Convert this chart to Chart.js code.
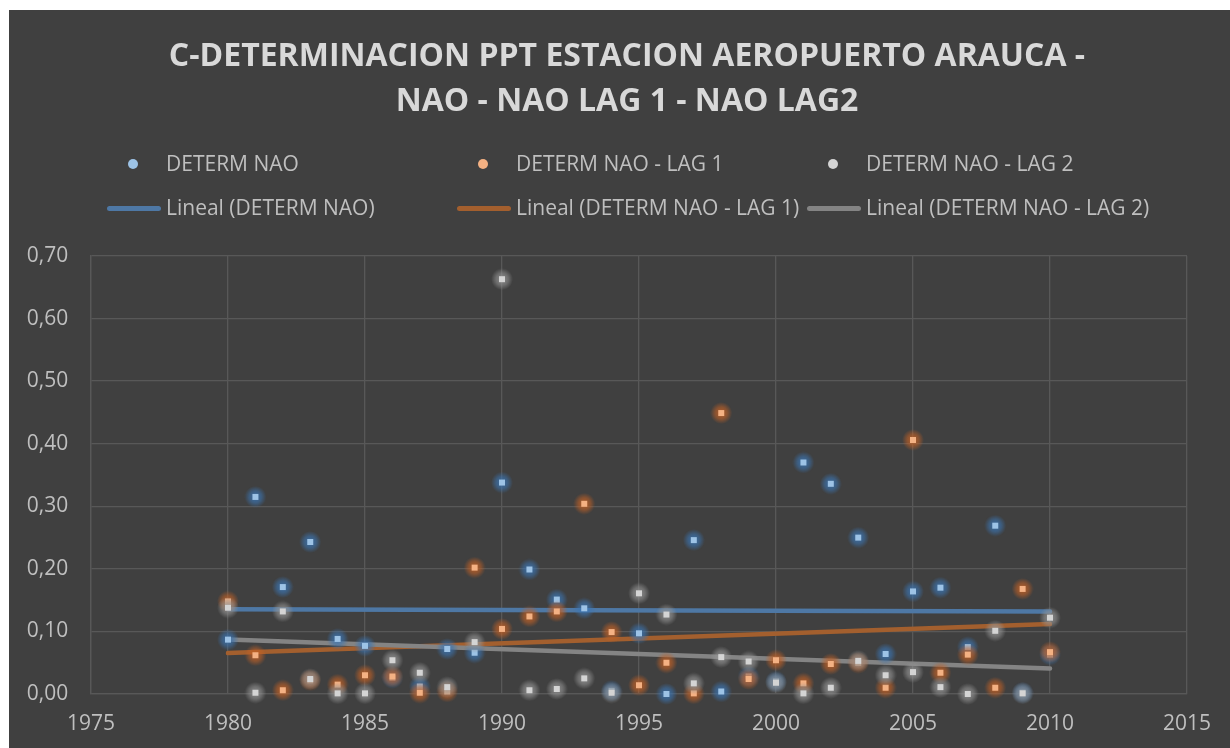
<!DOCTYPE html>
<html>
<head>
<meta charset="utf-8">
<script src="https://cdn.jsdelivr.net/npm/chart.js@4"></script>
<style>
html,body{margin:0;padding:0;background:#fff;}
#box{position:absolute;left:9px;top:10px;width:1221px;height:738px;background:#404040;overflow:hidden;}
#box canvas{position:absolute;left:0;top:0;}
.ttl{position:absolute;left:0;width:1236px;text-align:center;font-family:"Open Sans";font-weight:bold;font-size:32px;line-height:45px;color:#d9d9d9;white-space:nowrap;}
.leg{position:absolute;font-family:"Open Sans";font-size:21px;line-height:30px;color:#bfbfbf;white-space:nowrap;}
.dot{position:absolute;width:10px;height:10px;border-radius:50%;}
.ln{position:absolute;width:54px;height:5px;border-radius:3px;}
</style>
</head>
<body>
<div id="box">
<canvas id="chart" width="1221" height="738"></canvas>
<div id="title"></div>
<div id="legend"></div>
</div>
<script>
const years=[1980,1981,1982,1983,1984,1985,1986,1987,1988,1989,1990,1991,1992,1993,1994,1995,1996,1997,1998,1999,2000,2001,2002,2003,2004,2005,2006,2007,2008,2009,2010]

const determNao=[0.087,0.315,0.171,0.243,0.088,0.077,0.026,0.012,0.072,0.066,0.338,0.199,0.151,0.137,0.005,0.097,0.000,0.246,0.004,0.028,0.020,0.370,0.336,0.250,0.064,0.164,0.170,0.075,0.269,0.002,0.063]

const determLag1=[0.148,0.062,0.006,0.022,0.015,0.030,0.028,0.002,0.004,0.202,0.104,0.124,0.132,0.304,0.099,0.014,0.050,0.001,0.449,0.024,0.054,0.017,0.048,0.050,0.010,0.406,0.034,0.063,0.010,0.168,0.067]

const determLag2=[0.138,0.002,0.132,0.024,0.001,0.001,0.054,0.034,0.011,0.083,0.663,0.006,0.008,0.025,0.002,0.161,0.127,0.017,0.059,0.052,0.018,0.001,0.010,0.053,0.030,0.035,0.011,0.000,0.101,0.001,0.122]

const seriesNames=["DETERM NAO","DETERM NAO - LAG 1","DETERM NAO - LAG 2"]
const trendNames=["Lineal (DETERM NAO)","Lineal (DETERM NAO - LAG 1)","Lineal (DETERM NAO - LAG 2)"]

const titleLines=["C-DETERMINACION PPT ESTACION AEROPUERTO ARAUCA -","NAO - NAO LAG 1 - NAO LAG2"]

const pointColors=["#9dc3e6","#f4b183","#d4d4d4"]
const glowRgb=["60,118,180","196,98,38","150,150,150"]
const lineColors=["#4e78a5","#a35f2e","#848484"]

function toPoints(ys){
return years.map((y,i)=>({x:y,y:ys[i]}))
}

// least squares line, like excel's "Lineal" trendline
function trend(ys){
let n=years.length,sx=0,sy=0,sxx=0,sxy=0
years.forEach((x,i)=>{
let t=x-years[0]
sx+=t;sy+=ys[i];sxx+=t*t;sxy+=t*ys[i]
})
let b=(n*sxy-sx*sy)/(n*sxx-sx*sx)
let a=(sy-b*sx)/n
let last=years[n-1]-years[0]
return [{x:years[0],y:a},{x:years[n-1],y:a+b*last}]
}

// square marker with a soft glow round it
function marker(fill,rgb){
let c=document.createElement("canvas")
c.width=22
c.height=22
let g=c.getContext("2d")
let grd=g.createRadialGradient(11,11,1,11,11,11)
grd.addColorStop(0,"rgba("+rgb+",0.85)")
grd.addColorStop(0.5,"rgba("+rgb+",0.55)")
grd.addColorStop(1,"rgba("+rgb+",0)")
g.fillStyle=grd
g.beginPath()
g.arc(11,11,11,0,Math.PI*2)
g.fill()
g.fillStyle=fill
g.fillRect(8,8,6,6)
return c
}

const allSeries=[determNao,determLag1,determLag2]

let datasets=[]

allSeries.forEach((s,i)=>{
datasets.push({
label:seriesNames[i],
data:toPoints(s),
pointStyle:marker(pointColors[i],glowRgb[i]),
pointRadius:4,
backgroundColor:pointColors[i],
borderColor:pointColors[i],
clip:false,
order:2-i
})
})

allSeries.forEach((s,i)=>{
datasets.push({
label:trendNames[i],
data:trend(s),
showLine:true,
borderColor:lineColors[i],
borderWidth:4.5,
borderCapStyle:"round",
pointRadius:0,
order:5-i
})
})

const gridColor="#585858"
const tickFont={family:"Open Sans",size:21}

new Chart(document.getElementById("chart"),{
type:"scatter",
data:{datasets:datasets},
options:{
responsive:false,
animation:false,
events:[],
layout:{padding:{left:0,right:43,top:246,bottom:0}},
plugins:{
legend:{display:false},
tooltip:{enabled:false}
},
scales:{
x:{
type:"linear",
min:1975,
max:2015,
afterFit(s){s.height=54},
ticks:{stepSize:5,color:"#bfbfbf",font:tickFont,padding:17,callback:v=>String(v)},
grid:{color:gridColor,lineWidth:1.3,drawTicks:false},
border:{color:gridColor,width:1.3}
},
y:{
min:0,
max:0.7,
afterFit(s){s.width=82},
ticks:{stepSize:0.1,color:"#bfbfbf",font:tickFont,padding:22.7,callback:v=>v.toFixed(2).replace(".",",")},
grid:{color:gridColor,lineWidth:1.3,drawTicks:false},
border:{color:gridColor,width:1.3}
}
}
}
})

// title, two centred lines
const title=document.getElementById("title")
titleLines.forEach((line,i)=>{
let t=document.createElement("div")
t.className="ttl"
t.style.top=(21+i*45)+"px"
t.textContent=line
title.appendChild(t)
})

// legend in three columns like the excel one
const legend=document.getElementById("legend")
const colX=[124.3,474.3,824.3]

seriesNames.forEach((name,i)=>{
let d=document.createElement("div")
d.className="dot"
d.style.left=(colX[i]-5)+"px"
d.style.top="148.8px"
d.style.background=pointColors[i]
legend.appendChild(d)

let t=document.createElement("div")
t.className="leg"
t.style.left=(colX[i]+32.7)+"px"
t.style.top="137.5px"
t.textContent=name
legend.appendChild(t)
})

trendNames.forEach((name,i)=>{
let l=document.createElement("div")
l.className="ln"
l.style.left=(colX[i]-26.6)+"px"
l.style.top="195.8px"
l.style.background=lineColors[i]
legend.appendChild(l)

let t=document.createElement("div")
t.className="leg"
t.style.left=(colX[i]+32.7)+"px"
t.style.top="181.9px"
t.textContent=name
legend.appendChild(t)
})
</script>
</body>
</html>
